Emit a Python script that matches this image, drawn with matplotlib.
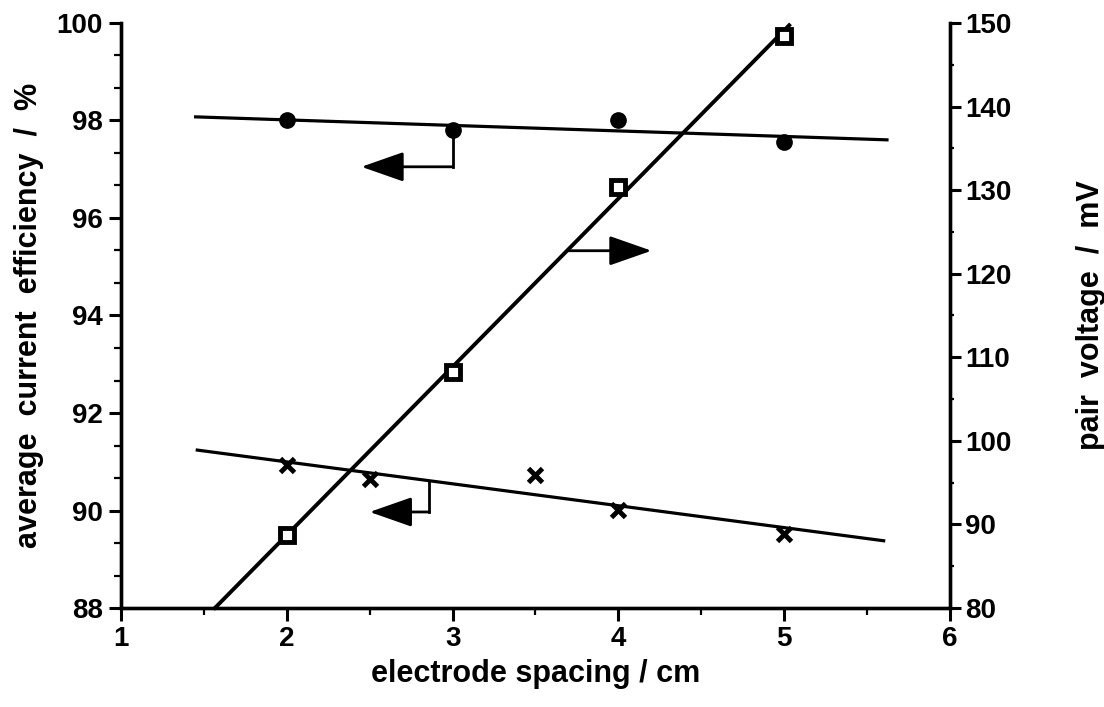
import numpy as np
import matplotlib
matplotlib.use("Agg")
import matplotlib.pyplot as plt
from matplotlib.ticker import MultipleLocator, AutoMinorLocator

plt.rcParams['font.family'] = ['Liberation Sans', 'DejaVu Sans']
plt.rcParams['font.weight'] = 'bold'

# current efficiency, first series (filled circles, left axis)
spacing_a = [2, 3, 4, 5]
eff_a = [98.0, 97.8, 98.02, 97.55]

# current efficiency, second series (crosses, left axis)
spacing_b = [2, 2.5, 3.5, 4, 5]
eff_b = [90.93, 90.64, 90.73, 90.02, 89.52]

# pair voltage (open squares, right axis)
spacing_v = [2, 3, 4, 5]
volt = [88.7, 108.2, 130.4, 148.4]

fig = plt.figure(figsize=(11.04, 7.07), dpi=100)
ax = fig.add_axes([0.1096, 0.140, 0.7509, 0.8275])
ax2 = ax.twinx()

# regression lines
fa = np.polyfit(spacing_a, eff_a, 1)
fb = np.polyfit(spacing_b, eff_b, 1)
fv = np.polyfit(spacing_v, volt, 1)

xa = np.array([1.45, 5.62])
xb = np.array([1.46, 5.6])
xv = np.array([(80 - fv[1]) / fv[0], 5.03])

ax.plot(xa, np.polyval(fa, xa), color='black', lw=2.3)
ax.plot(xb, np.polyval(fb, xb), color='black', lw=2.3)
ax2.plot(xv, np.polyval(fv, xv), color='black', lw=2.8, clip_on=False)

ax.plot(spacing_a, eff_a, 'o', color='black', ms=11, zorder=5)
ax.plot(spacing_b, eff_b, 'x', color='black', ms=10, mew=3.5, zorder=5)
ax2.plot(spacing_v, volt, 's', mfc='white', mec='black', ms=9.5, mew=3.5, zorder=5)

# arrows pointing to the axis each series belongs to
arrow = dict(arrowstyle='-|>,head_length=1.2,head_width=0.42', color='black',
             lw=2, mutation_scale=22, shrinkA=0, shrinkB=0)

y0 = np.polyval(fa, 3.0)
ax.plot([3.0, 3.0], [y0, 97.05], color='black', lw=2)
ax.annotate('', xy=(2.45, 97.05), xytext=(3.0, 97.05), arrowprops=arrow)

y1 = np.polyval(fb, 2.86)
ax.plot([2.86, 2.86], [y1, 89.97], color='black', lw=2)
ax.annotate('', xy=(2.5, 89.97), xytext=(2.86, 89.97), arrowprops=arrow)

xs = 3.69
ax2.annotate('', xy=(4.2, np.polyval(fv, xs)), xytext=(xs, np.polyval(fv, xs)),
             arrowprops=arrow)

ax.set_xlim(1, 6)
ax.set_ylim(88, 100)
ax2.set_ylim(80, 150)

ax.xaxis.set_major_locator(MultipleLocator(1))
ax.xaxis.set_minor_locator(MultipleLocator(0.5))
ax.yaxis.set_major_locator(MultipleLocator(2))
ax.yaxis.set_minor_locator(AutoMinorLocator(3))
ax2.yaxis.set_major_locator(MultipleLocator(10))
ax2.yaxis.set_minor_locator(MultipleLocator(5))

for a in (ax, ax2):
    for s in a.spines.values():
        s.set_linewidth(2.4)
    a.spines['top'].set_visible(False)

ax.tick_params(axis='both', which='major', direction='out', length=9, width=2.2,
               labelsize=20, pad=4)
ax.tick_params(axis='both', which='minor', direction='out', length=5, width=1.6)
ax2.tick_params(axis='y', which='major', direction='out', length=8, width=2.2,
                labelsize=20, pad=3)
ax2.tick_params(axis='y', which='minor', direction='out', length=3, width=1.6)

ax.set_xlabel('electrode spacing / cm', fontsize=22, fontweight='bold', labelpad=5)
ax.set_ylabel('average  current  efficiency  /  %', fontsize=22,
              fontweight='bold', labelpad=9)
ax2.set_ylabel('pair  voltage  /  mV', fontsize=22, fontweight='bold', labelpad=46)

fig.savefig('out.png', dpi=100)
